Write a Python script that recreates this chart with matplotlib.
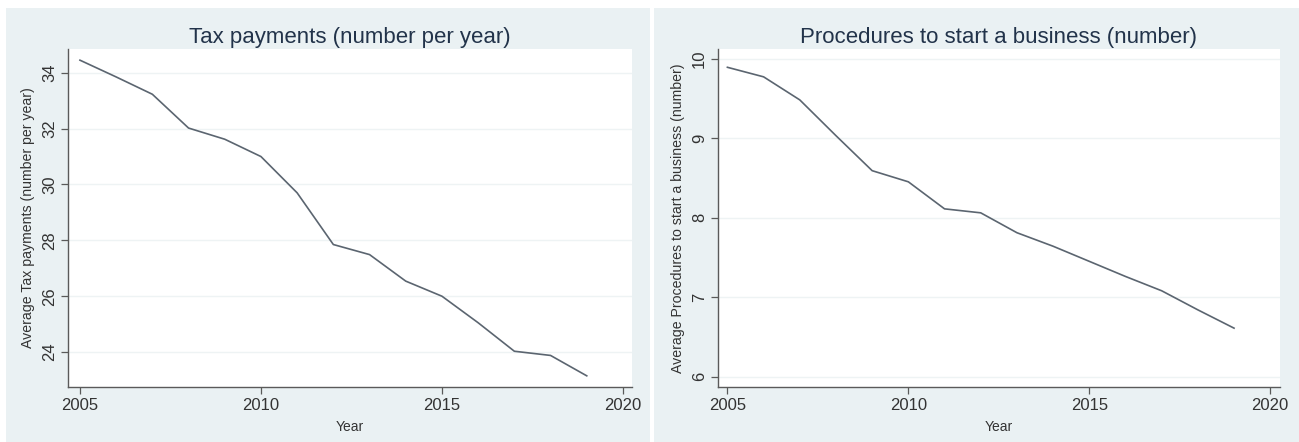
import matplotlib
matplotlib.use("Agg")
import matplotlib.pyplot as plt
from matplotlib.patches import Rectangle

years = [2005, 2006, 2007, 2008, 2009, 2010, 2011, 2012, 2013, 2014, 2015, 2016, 2017, 2018, 2019]
tax_payments = [34.45, 33.85, 33.23, 32.02, 31.62, 31.0, 29.7, 27.85, 27.49, 26.54, 26.0, 25.05, 24.03, 23.88, 23.15]
procedures = [9.89, 9.77, 9.48, 9.03, 8.59, 8.45, 8.11, 8.06, 7.81, 7.64, 7.45, 7.26, 7.08, 6.84, 6.61]

x_ticks = [2005, 2010, 2015, 2020]
tax_yticks = [24, 26, 28, 30, 32, 34]
proc_yticks = [6, 7, 8, 9, 10]

titles = ["Tax payments (number per year)", "Procedures to start a business (number)"]
ylabels = ["Average Tax payments (number per year)", "Average Procedures to start a business (number)"]
xlabel = "Year"

plt.rcParams['font.family'] = ['Liberation Sans', 'DejaVu Sans']

W, H = 1299, 442
fig = plt.figure(figsize=(W / 100, H / 100), dpi=100)
fig.patch.set_facecolor('white')

bg = '#eaf1f3'
# panel backgrounds
for (px0, px1) in [(6, 650), (654, 1299)]:
    fig.patches.append(Rectangle((px0 / W, 0), (px1 - px0) / W, (H - 8) / H,
                                 transform=fig.transFigure, facecolor=bg,
                                 edgecolor='none', zorder=-10))

def make_ax(px0, px1, ptop, pbot):
    return fig.add_axes([px0 / W, (H - pbot) / H, (px1 - px0) / W, (pbot - ptop) / H])

axes = [make_ax(68, 632, 49, 387), make_ax(718, 1280, 49, 387)]
data = [tax_payments, procedures]
yticks = [tax_yticks, proc_yticks]
xlims = [(2004.67, 2020.25), (2004.74, 2020.27)]
ylims = [(22.75, 34.85), (5.87, 10.12)]

line_color = '#5b6570'
for ax, vals, yt, xl, yl, title, ylab in zip(axes, data, yticks, xlims, ylims, titles, ylabels):
    ax.set_zorder(5)
    ax.set_facecolor('white')
    ax.plot(years, vals, color=line_color, lw=1.2, zorder=3)
    ax.set_xlim(*xl)
    ax.set_ylim(*yl)
    ax.set_xticks(x_ticks)
    ax.set_yticks(yt)
    ax.set_yticklabels([str(v) for v in yt], rotation=90, va='center')
    ax.grid(axis='y', color='#eef3f4', lw=1.0, zorder=1)
    ax.grid(axis='x', visible=False)
    for s in ['top', 'right']:
        ax.spines[s].set_visible(False)
    for s in ['left', 'bottom']:
        ax.spines[s].set_color('#5a5a5a')
        ax.spines[s].set_linewidth(1.0)
    ax.tick_params(axis='both', direction='out', length=5, width=0.9, color='#5a5a5a',
                   labelsize=12, labelcolor='#333333', pad=3)
    ax.set_title(title, fontsize=16, color='#22334a', pad=4)
    ax.set_ylabel(ylab, fontsize=10.2, color='#333333', labelpad=5)
    ax.set_xlabel(xlabel, fontsize=10, color='#333333', labelpad=5)

fig.savefig('out.png', dpi=100, facecolor=fig.get_facecolor())
